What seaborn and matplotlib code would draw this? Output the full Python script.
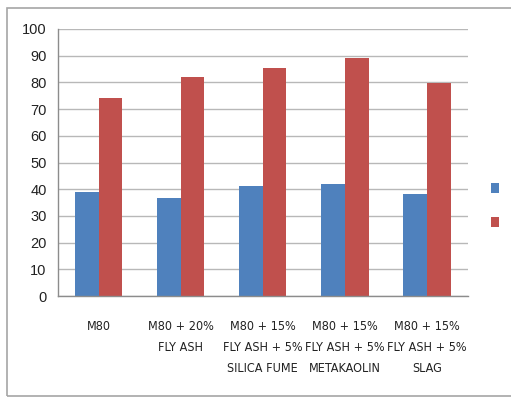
import matplotlib
matplotlib.use("Agg")
import matplotlib.pyplot as plt
from matplotlib import font_manager
from matplotlib.patches import Rectangle, Patch
import seaborn as sns
import pandas as pd
import numpy as np

categories = [
    "M80",
    "M80 + 20%\nFLY ASH",
    "M80 + 15%\nFLY ASH + 5%\nSILICA FUME",
    "M80 + 15%\nFLY ASH + 5%\nMETAKAOLIN",
    "M80 + 15%\nFLY ASH + 5%\nSLAG",
]
series_names = ["Series 1", "Series 2"]
series1 = [39.0, 36.7, 41.2, 42.1, 38.3]
series2 = [74.2, 82.1, 85.3, 89.3, 79.7]
y_ticks = [0, 10, 20, 30, 40, 50, 60, 70, 80, 90, 100]

colors = ["#4F81BD", "#C0504D"]

df = pd.DataFrame({
    "category": categories * 2,
    "series": [series_names[0]] * len(categories) + [series_names[1]] * len(categories),
    "value": series1 + series2,
})

sns.set_style("white")
plt.rcParams["font.family"] = ["Liberation Sans", "DejaVu Sans"]

installed = {f.name for f in font_manager.fontManager.ttflist}
if "Liberation Sans Narrow" in installed:
    narrow = dict(family=["Liberation Sans Narrow", "DejaVu Sans"], fontsize=11.4)
else:
    narrow = dict(family=["DejaVu Sans"], fontstretch="condensed", fontsize=9)

fig = plt.figure(figsize=(5.11, 3.97), dpi=100)
ax = fig.add_axes([57.7 / 511, 1 - 296 / 397, (468 - 57.7) / 511, (296 - 29) / 397])

sns.barplot(data=df, x="category", y="value", hue="series", order=categories,
            hue_order=series_names, palette=colors, width=0.575, saturation=1,
            ax=ax, legend=False, errorbar=None, linewidth=0)

ax.set_xlim(-0.5, len(categories) - 0.5)
ax.set_ylim(0, 100)
ax.set_yticks(y_ticks)
ax.set_yticklabels([str(t) for t in y_ticks], fontsize=10.5, color="#222222")
ax.set_xlabel("")
ax.set_ylabel("")

# category labels at centers, tick marks at category boundaries
ax.set_xticks(range(len(categories)))
ax.set_xticklabels(categories, color="#222222", linespacing=1.82, **narrow)
ax.set_xticks(np.arange(-0.5, len(categories), 1.0), minor=True)
ax.tick_params(axis="x", which="major", length=0, pad=17)
ax.tick_params(axis="x", which="minor", length=5, width=1, color="#8c8c8c", direction="out")
ax.tick_params(axis="y", which="major", length=5, width=1, color="#8c8c8c", direction="out", pad=3)

ax.yaxis.grid(True, color="#b8b8b8", linewidth=1)
ax.set_axisbelow(True)
for side in ["top", "right"]:
    ax.spines[side].set_visible(False)
for side in ["left", "bottom"]:
    ax.spines[side].set_color("#8c8c8c")
    ax.spines[side].set_linewidth(1)

# legend with colour keys only
handles = [Patch(facecolor=c, edgecolor="none") for c in colors]
fig.legend(handles, ["", ""], loc="upper left", bbox_to_anchor=(491 / 511, 1 - 182 / 397),
           frameon=False, handlelength=0.55, handleheight=0.75, labelspacing=1.42,
           handletextpad=0, borderpad=0, borderaxespad=0)

# chart area border
fig.patches.append(Rectangle((7 / 511, 1.5 / 397), 1.2, 1 - 9.5 / 397, transform=fig.transFigure,
                             fill=False, edgecolor="#a6a6a6", linewidth=1.2))

fig.savefig("out.png", dpi=100)
